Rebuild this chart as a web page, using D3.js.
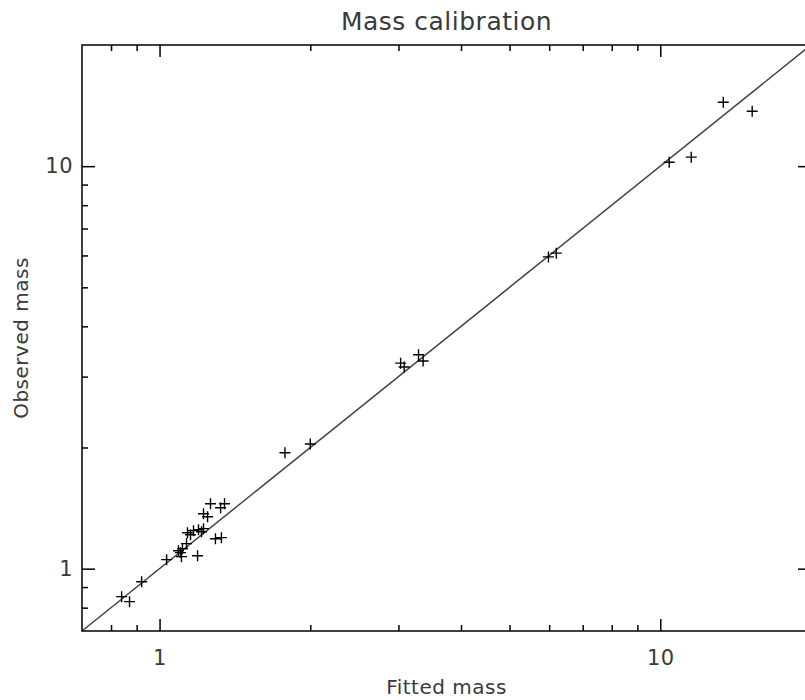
<!DOCTYPE html>
<html lang="en">
<head>
  <meta charset="UTF-8">
  <title>Mass calibration</title>
  <style>
    body {
      margin: 0;
      background: #fff;
    }
    svg text {
      font-family: "DejaVu Sans", sans-serif;
      fill: #3a3a3a;
      letter-spacing: 0.5px;
    }
  </style>
</head>
<body>
  <div id="chart"></div>

  <script src="https://d3js.org/d3.v7.min.js"></script>
  <script>
    // fitted vs observed masses
    const fittedMass = [15.26, 13.36, 11.53, 10.42, 5.98, 6.20, 3.03, 3.08, 3.29, 3.36, 2.00, 1.78,
      0.840, 0.871, 0.921, 1.033, 1.091, 1.101, 1.106, 1.111, 1.191, 1.132, 1.137, 1.153,
      1.169, 1.196, 1.224, 1.213, 1.224, 1.247, 1.264, 1.324, 1.348, 1.293, 1.329];
    const observedMass = [13.69, 14.42, 10.53, 10.23, 5.95, 6.08, 3.24, 3.17, 3.40, 3.28, 2.04, 1.94,
      0.852, 0.828, 0.928, 1.053, 1.108, 1.096, 1.071, 1.121, 1.077, 1.154, 1.228, 1.214,
      1.243, 1.249, 1.257, 1.235, 1.369, 1.346, 1.450, 1.417, 1.450, 1.187, 1.194];

    const axisRange = [0.7, 20];
    const majorTicks = [1, 10];
    const majorLabels = ["1", "10"];
    const minorTicks = [0.8, 0.9, 2, 3, 4, 5, 6, 7, 8, 9];

    const width = 805;
    const height = 700;
    const margin = { top: 45, right: -6, bottom: 69, left: 82 };

    const svg = d3.select("#chart").append("svg")
      .attr("width", width)
      .attr("height", height);

    const x = d3.scaleLog()
      .domain(axisRange)
      .range([margin.left, width - margin.right]);

    const y = d3.scaleLog()
      .domain(axisRange)
      .range([height - margin.bottom, margin.top]);

    const x0 = margin.left, x1 = width - margin.right;
    const y0 = height - margin.bottom, y1 = margin.top;

    // one-to-one line
    svg.append("line")
      .attr("x1", x(axisRange[0])).attr("y1", y(axisRange[0]))
      .attr("x2", x(axisRange[1])).attr("y2", y(axisRange[1]))
      .attr("stroke", "#444")
      .attr("stroke-width", 1.5);

    // plus markers
    const pts = fittedMass.map((f, i) => ({ f: f, o: observedMass[i] }));
    const s = 5.5;
    const marks = svg.append("g").attr("stroke", "#000").attr("stroke-width", 1.4);
    marks.selectAll("path")
      .data(pts)
      .enter()
      .append("path")
      .attr("d", d => {
        const px = x(d.f), py = y(d.o);
        return `M${px - s},${py}H${px + s}M${px},${py - s}V${py + s}`;
      });

    // axes: major ticks with labels, minor ticks without
    function drawAxis(axisFn, scale, pos, size, minorSize, labels, pad) {
      const major = svg.append("g")
        .attr("transform", pos)
        .call(axisFn(scale).tickValues(majorTicks)
          .tickFormat((d, i) => labels ? majorLabels[i] : "")
          .tickSize(-size).tickSizeOuter(0).tickPadding(pad));
      const minor = svg.append("g")
        .attr("transform", pos)
        .call(axisFn(scale).tickValues(minorTicks)
          .tickFormat("").tickSize(-minorSize).tickSizeOuter(0));
      [major, minor].forEach(g => {
        g.select(".domain").remove();
        g.selectAll("line").attr("stroke", "#000").attr("stroke-width", 1.5);
      });
      major.selectAll("text")
        .style("font-size", "21px")
        .style("font-family", "'DejaVu Sans', sans-serif")
        .attr("fill", "#3a3a3a");
    }

    drawAxis(d3.axisBottom, x, `translate(0,${y0})`, 12, 6, true, 19);
    drawAxis(d3.axisTop, x, `translate(0,${y1})`, 12, 6, false, 0);
    drawAxis(d3.axisLeft, y, `translate(${x0},0)`, 13, 6, true, 9);
    drawAxis(d3.axisRight, y, `translate(${x1},0)`, 13, 6, false, 0);

    // frame
    svg.append("rect")
      .attr("x", x0).attr("y", y1)
      .attr("width", x1 - x0).attr("height", y0 - y1)
      .attr("fill", "none")
      .attr("stroke", "#000")
      .attr("stroke-width", 1.5);

    const cx = (x0 + x1) / 2;

    svg.append("text")
      .attr("x", cx).attr("y", 30)
      .attr("text-anchor", "middle")
      .style("font-size", "25px")
      .text("Mass calibration");

    svg.append("text")
      .attr("x", cx).attr("y", 694)
      .attr("text-anchor", "middle")
      .style("font-size", "20px")
      .text("Fitted mass");

    svg.append("text")
      .attr("transform", `translate(28,${(y0 + y1) / 2}) rotate(-90)`)
      .attr("text-anchor", "middle")
      .style("font-size", "20px")
      .text("Observed mass");
  </script>
</body>
</html>
